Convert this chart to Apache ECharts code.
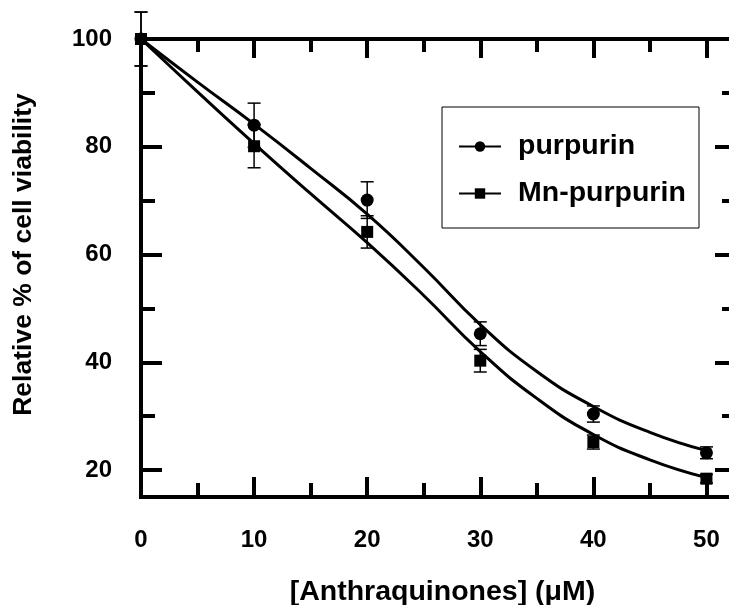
<!DOCTYPE html>
<html><head><meta charset="utf-8">
<script src="https://cdn.jsdelivr.net/npm/echarts@6/dist/echarts.min.js"></script>
<style>html,body{margin:0;padding:0;background:#fff;overflow:hidden;width:729px;height:605px}#c{width:780px;height:605px}</style>
</head><body><div id="c"></div>
<script>
// ---- data ----
const concentrations = [0, 10, 20, 30, 40, 50];
const purpurin = [100, 84.0, 70.1, 45.3, 30.4, 23.2];
const purpurinErr = [5.0, 4.1, 3.4, 2.2, 1.5, 1.1];
const mnPurpurin = [100, 80.1, 64.2, 40.3, 25.2, 18.4];
const mnPurpurinErr = [5.0, 4.0, 3.0, 2.1, 1.3, 0.8];
const fitX = [0, 5, 10, 15, 20, 25, 30, 35, 40, 45, 50];
const purpurinFit = [100, 92.0, 84.2, 76.0, 67.5, 57.6, 47.0, 38.3, 31.8, 27.0, 23.6];
const mnPurpurinFit = [100, 90.2, 80.6, 71.3, 62.2, 52.4, 42.0, 33.3, 26.6, 21.9, 18.6];
const xTickLabels = [0, 10, 20, 30, 40, 50];
const yTickLabels = [20, 40, 60, 80, 100];
const seriesNames = ['purpurin', 'Mn-purpurin'];
const xTitle = '[Anthraquinones] (\u03bcM)';
const yTitle = 'Relative % of cell viability';

// ---- chart ----
const F = '"Liberation Sans", Arial, Helvetica, sans-serif';
const BLACK = '#000';
const chart = echarts.init(document.getElementById('c'), null, {renderer: 'canvas'});

function errRender(params, api) {
  const x = api.value(0), lo = api.value(1), hi = api.value(2);
  const a = api.coord([x, lo]), b = api.coord([x, hi]);
  const hw = 6.5;
  const st = {stroke: BLACK, lineWidth: 1.5};
  return {type: 'group', children: [
    {type: 'line', shape: {x1: a[0], y1: a[1], x2: b[0], y2: b[1]}, style: st},
    {type: 'line', shape: {x1: a[0] - hw, y1: a[1], x2: a[0] + hw, y2: a[1]}, style: st},
    {type: 'line', shape: {x1: b[0] - hw, y1: b[1], x2: b[0] + hw, y2: b[1]}, style: st}
  ]};
}
const errData = (vals, errs) => concentrations.map((x, i) => [x, vals[i] - errs[i], vals[i] + errs[i]]);

const axisLine = {show: true, lineStyle: {color: BLACK, width: 4, cap: 'square'}};
const labelStyle = {fontFamily: F, fontWeight: 'bold', fontSize: 24, color: BLACK};

const option = {
  backgroundColor: '#fff',
  animation: false,
  grid: [
    {left: 141, top: 39, width: 622, height: 458, outerBoundsMode: 'none', containLabel: false},
    {left: 141, top: 39, width: 595, height: 431, outerBoundsMode: 'none', containLabel: false}
  ],
  xAxis: [
    {gridIndex: 0, type: 'value', position: 'bottom', min: 0, max: 55, interval: 10,
     axisLine: axisLine,
     axisTick: {show: true, inside: true, length: 20, lineStyle: {color: BLACK, width: 4}},
     minorTick: {show: true, splitNumber: 2, length: 14, lineStyle: {color: BLACK, width: 4}},
     splitLine: {show: false}, minorSplitLine: {show: false},
     axisLabel: Object.assign({margin: 31, showMaxLabel: false,
       formatter: v => xTickLabels.includes(v) ? String(v) : ''}, labelStyle)},
    {gridIndex: 0, type: 'value', position: 'top', min: 0, max: 55, interval: 10,
     axisLine: axisLine,
     axisTick: {show: true, inside: true, length: 19, lineStyle: {color: BLACK, width: 4}},
     minorTick: {show: true, splitNumber: 2, length: 13, lineStyle: {color: BLACK, width: 4}},
     splitLine: {show: false}, minorSplitLine: {show: false},
     axisLabel: {show: false}},
    {gridIndex: 1, type: 'value', position: 'bottom', min: 0, max: 1,
     axisLine: {show: false}, axisTick: {show: false}, axisLabel: {show: false}, splitLine: {show: false},
     name: xTitle, nameLocation: 'middle', nameGap: 108,
     nameTextStyle: {fontFamily: F, fontWeight: 'bold', fontSize: 28.5, color: BLACK, padding: [0, 0, 0, 8]}}
  ],
  yAxis: [
    {gridIndex: 0, type: 'value', position: 'left', min: 15, max: 100, interval: 5,
     axisLine: axisLine, axisTick: {show: false}, splitLine: {show: false},
     axisLabel: Object.assign({margin: 29, formatter: v => yTickLabels.includes(v) ? String(v) : ''}, labelStyle)},
    {gridIndex: 1, type: 'value', position: 'left', min: 20, max: 100, interval: 20,
     axisLine: {show: false},
     axisTick: {show: true, inside: true, length: 21, lineStyle: {color: BLACK, width: 4}},
     minorTick: {show: true, splitNumber: 2, length: 14, lineStyle: {color: BLACK, width: 4}},
     splitLine: {show: false}, minorSplitLine: {show: false}, axisLabel: {show: false},
     name: yTitle, nameLocation: 'middle', nameGap: 104,
     nameTextStyle: {fontFamily: F, fontWeight: 'bold', fontSize: 26.5, color: BLACK}},
    {gridIndex: 1, type: 'value', position: 'right', min: 20, max: 100, interval: 20,
     axisLine: axisLine,
     axisTick: {show: true, inside: true, length: 21, lineStyle: {color: BLACK, width: 4}},
     minorTick: {show: true, splitNumber: 2, length: 14, lineStyle: {color: BLACK, width: 4}},
     splitLine: {show: false}, minorSplitLine: {show: false}, axisLabel: {show: false}}
  ],
  legend: {
    data: seriesNames, orient: 'vertical', left: 453, top: 127,
    itemWidth: 42, itemHeight: 13, itemGap: 18,
    textStyle: {fontFamily: F, fontWeight: 'bold', fontSize: 28.5, color: BLACK, padding: [0, 0, 0, 12]}
  },
  graphic: [
    {type: 'rect', shape: {x: 442, y: 107, width: 257, height: 121},
     style: {fill: 'none', stroke: BLACK, lineWidth: 1}, z: 1}
  ],
  series: [
    {name: seriesNames[0], type: 'line', xAxisIndex: 0, yAxisIndex: 0, smooth: true, clip: false,
     data: fitX.map((x, i) => [x, purpurinFit[i]]), symbol: 'circle', symbolSize: 11, showSymbol: false,
     lineStyle: {color: BLACK, width: 3}, itemStyle: {color: BLACK}, z: 3},
    {name: seriesNames[1], type: 'line', xAxisIndex: 0, yAxisIndex: 0, smooth: true, clip: false,
     data: fitX.map((x, i) => [x, mnPurpurinFit[i]]), symbol: 'rect', symbolSize: 11, showSymbol: false,
     lineStyle: {color: BLACK, width: 3}, itemStyle: {color: BLACK}, z: 3},
    {name: 'purpurin data', type: 'scatter', xAxisIndex: 0, yAxisIndex: 0, clip: false,
     data: concentrations.map((x, i) => [x, purpurin[i]]), symbol: 'circle', symbolSize: 13,
     itemStyle: {color: BLACK, opacity: 1}, z: 4},
    {name: 'Mn-purpurin data', type: 'scatter', xAxisIndex: 0, yAxisIndex: 0, clip: false,
     data: concentrations.map((x, i) => [x, mnPurpurin[i]]), symbol: 'rect', symbolSize: 12,
     itemStyle: {color: BLACK, opacity: 1}, z: 4},
    {name: 'purpurin err', type: 'custom', xAxisIndex: 0, yAxisIndex: 0, clip: false,
     renderItem: errRender, data: errData(purpurin, purpurinErr), z: 4},
    {name: 'Mn-purpurin err', type: 'custom', xAxisIndex: 0, yAxisIndex: 0, clip: false,
     renderItem: errRender, data: errData(mnPurpurin, mnPurpurinErr), z: 4}
  ]
};
chart.setOption(option);
</script></body></html>
